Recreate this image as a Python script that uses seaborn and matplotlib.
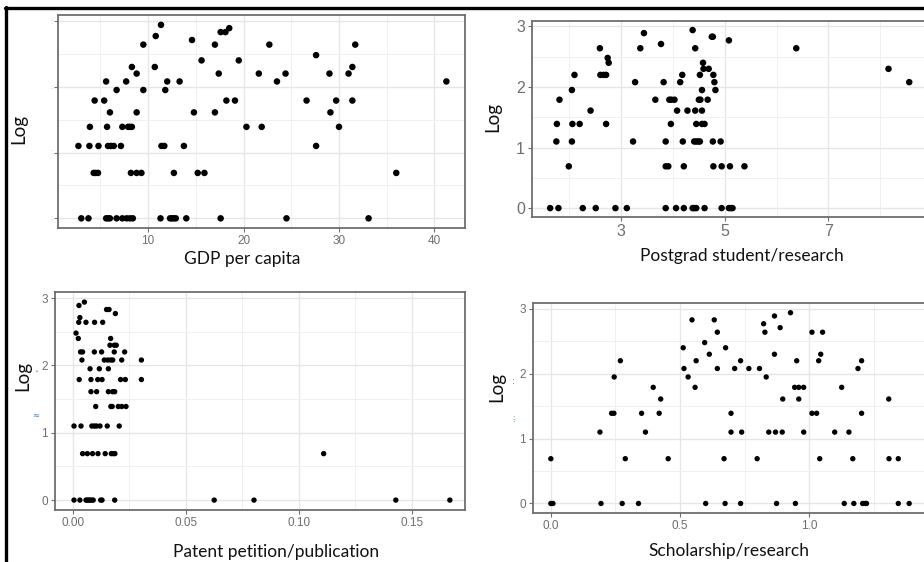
import numpy as np
import pandas as pd
import matplotlib
matplotlib.use("Agg")
import matplotlib.pyplot as plt
from matplotlib.lines import Line2D
from matplotlib.ticker import FixedLocator
import seaborn as sns

# ---- data: log counts (rows) and the x values observed at each level ----
gdp_rows = {
    0.00: [3.0, 3.75, 5.6, 5.8, 6.0, 6.7, 7.3, 7.75, 8.1, 8.4, 11.3, 12.3, 12.5, 12.7, 12.9, 14.0, 17.6, 24.5, 33.1],
    0.69: [4.3, 4.5, 4.75, 8.2, 8.8, 9.3, 12.7, 15.2, 15.9, 36.0],
    1.10: [2.7, 3.85, 4.8, 5.8, 6.1, 6.4, 7.15, 11.4, 11.7, 13.75, 27.6],
    1.39: [3.9, 5.7, 7.3, 7.9, 8.1, 8.3, 20.3, 21.9, 30.0],
    1.61: [6.0, 8.8, 14.8, 17.0, 29.1],
    1.79: [4.4, 5.4, 18.2, 19.1, 26.6, 29.7, 31.4],
    1.95: [6.7, 9.5, 11.8],
    2.08: [5.6, 7.7, 12.0, 13.3, 23.5, 41.25],
    2.20: [8.8, 17.4, 21.6, 24.4, 29.0, 31.0],
    2.30: [8.3, 10.7, 31.4],
    2.40: [15.6, 19.5],
    2.48: [27.6],
    2.64: [9.5, 17.0, 22.7, 31.7],
    2.71: [14.6],
    2.77: [10.8],
    2.83: [17.6, 18.1],
    2.89: [18.5],
    2.94: [11.35],
}

postgrad_rows = {
    0.00: [1.63, 1.79, 2.26, 2.51, 2.89, 3.11, 3.86, 4.06, 4.21, 4.38, 4.41, 4.45, 4.61, 4.94, 5.08, 5.12, 5.15],
    0.69: [1.99, 3.86, 3.91, 4.21, 4.78, 4.94, 5.10, 5.38],
    1.10: [1.75, 2.05, 3.23, 3.86, 4.19, 4.41, 4.45, 4.49, 4.52, 4.77, 4.92],
    1.39: [1.76, 2.06, 2.20, 2.71, 3.96, 4.45, 4.56, 4.61],
    1.61: [2.41, 4.08, 4.28, 4.43, 4.56],
    1.79: [1.81, 3.66, 3.93, 3.97, 4.03, 4.50, 4.53, 4.67],
    1.95: [2.05, 4.56, 4.82],
    2.08: [3.27, 3.82, 4.14, 4.80, 8.56],
    2.20: [2.10, 2.60, 2.66, 2.71, 4.18, 4.52, 4.78],
    2.30: [4.59, 4.69, 8.16],
    2.40: [2.76, 4.58],
    2.48: [2.74],
    2.64: [2.59, 3.37, 4.43, 6.38],
    2.71: [3.77],
    2.77: [5.08],
    2.83: [4.75, 4.77],
    2.89: [3.44],
    2.94: [4.38],
}

patent_rows = {
    0.00: [0.0006, 0.0032, 0.0059, 0.0065, 0.0071, 0.0077, 0.0084, 0.0091, 0.0124, 0.0130, 0.0186, 0.0626, 0.0802, 0.1429, 0.1668],
    0.69: [0.0044, 0.0065, 0.0088, 0.0112, 0.0144, 0.0171, 0.0180, 0.0187, 0.1110],
    1.10: [0.0006, 0.0037, 0.0085, 0.0096, 0.0106, 0.0121, 0.0153, 0.0206],
    1.39: [0.0102, 0.0169, 0.0175, 0.0202, 0.0217, 0.0236],
    1.61: [0.0081, 0.0106, 0.0158, 0.0177, 0.0186],
    1.79: [0.0029, 0.0081, 0.0111, 0.0130, 0.0212, 0.0233, 0.0304],
    1.95: [0.0077, 0.0118, 0.0158],
    2.08: [0.0041, 0.0140, 0.0155, 0.0168, 0.0177, 0.0217, 0.0304],
    2.20: [0.0035, 0.0044, 0.0096, 0.0128, 0.0184, 0.0230],
    2.30: [0.0165, 0.0184, 0.0193],
    2.40: [0.0025, 0.0168],
    2.48: [0.0015],
    2.64: [0.0027, 0.0059, 0.0097, 0.0133],
    2.71: [0.0032],
    2.77: [0.0189],
    2.83: [0.0150, 0.0161],
    2.89: [0.0028],
    2.94: [0.0052],
}

scholarship_rows = {
    0.00: [0.0, 0.008, 0.194, 0.276, 0.339, 0.599, 0.674, 0.734, 0.873, 0.946, 1.135, 1.172, 1.206, 1.216, 1.221, 1.344, 1.386],
    0.69: [0.0, 0.288, 0.454, 0.670, 0.798, 1.040, 1.168, 1.308, 1.344],
    1.10: [0.190, 0.366, 0.697, 0.738, 0.843, 0.869, 0.895, 0.978, 1.098, 1.153],
    1.39: [0.235, 0.244, 0.351, 0.419, 0.697, 1.010, 1.028, 1.202],
    1.61: [0.425, 0.897, 0.959, 1.307],
    1.79: [0.396, 0.558, 0.943, 0.959, 0.978, 1.125],
    1.95: [0.245, 0.531, 0.833],
    2.08: [0.515, 0.644, 0.711, 0.766, 0.807, 1.188],
    2.20: [0.269, 0.562, 0.734, 0.951, 1.036, 1.202],
    2.30: [0.613, 0.865, 1.044],
    2.40: [0.512, 0.676],
    2.48: [0.595],
    2.64: [0.644, 0.828, 1.010, 1.051],
    2.71: [0.887],
    2.77: [0.823],
    2.83: [0.546, 0.632],
    2.89: [0.865],
    2.94: [0.927],
}

x_titles = ["GDP per capita", "Postgrad student/research",
            "Patent petition/publication", "Scholarship/research"]
y_title = "Log"


def to_frame(rows):
    recs = [(x, y) for y, xs in rows.items() for x in xs]
    return pd.DataFrame(recs, columns=["x", "y"])


# ---- figure & style ----
W, H = 924, 562
sns.set_theme(style="white")
plt.rcParams["font.family"] = ["DejaVu Sans"]
fig = plt.figure(figsize=(W / 100, H / 100), dpi=100)
fig.patch.set_facecolor("white")

TICK_FONT = ["Liberation Sans Narrow", "Liberation Sans", "DejaVu Sans"]
TITLE_FONT = ["Lato", "DejaVu Sans"]


def add_axes_px(left, top, right, bottom):
    return fig.add_axes([left / W, 1 - bottom / H, (right - left) / W, (bottom - top) / H])


def style_panel(ax, xlim, major, minor, xlabels, show_ylabels, tick_size, dot_size, df):
    sns.scatterplot(data=df, x="x", y="y", ax=ax, color="black", s=dot_size,
                    edgecolor="none", linewidth=0, zorder=3, clip_on=False)
    ax.set_xlim(*xlim)
    ax.set_ylim(-0.147, 3.09)
    ax.xaxis.set_major_locator(FixedLocator(major))
    ax.xaxis.set_minor_locator(FixedLocator(minor))
    ax.yaxis.set_major_locator(FixedLocator([0, 1, 2, 3]))
    ax.yaxis.set_minor_locator(FixedLocator([0.5, 1.5, 2.5]))
    ax.grid(True, which="major", color="#e6e6e6", linewidth=1.0, zorder=0)
    ax.grid(True, which="minor", color="#f0f0f0", linewidth=0.7, zorder=0)
    ax.set_axisbelow(True)
    for sp in ax.spines.values():
        sp.set_color("#6e6e6e")
        sp.set_linewidth(1.3)
    ax.tick_params(axis="both", which="major", direction="out", length=3,
                   width=0.8, color="#6e6e6e", labelcolor="#6e6e6e",
                   labelsize=tick_size, pad=2, bottom=True, left=True)
    ax.tick_params(axis="both", which="minor", length=0)
    ax.set_xticklabels(xlabels, family=TICK_FONT)
    if show_ylabels:
        ax.set_yticklabels(["0", "1", "2", "3"], family=TICK_FONT)
    else:
        ax.set_yticklabels([])
    ax.set_xlabel("")
    ax.set_ylabel("")


def px_text(x, y, s, **kw):
    fig.text(x / W, 1 - y / H, s, **kw)


# Panel 1: GDP per capita
ax1 = add_axes_px(58, 15, 465, 228)
style_panel(ax1, (0.56, 43.2), [10, 20, 30, 40], [5, 15, 25, 35],
            ["10", "20", "30", "40"], False, 8.5, 22, to_frame(gdp_rows))
for yy in [22, 87, 152, 218]:
    px_text(51, yy, ":", color="#9cc3ea", fontsize=5, ha="center", va="center")

# Panel 2: Postgrad student/research
ax2 = add_axes_px(532, 21, 931, 217)
style_panel(ax2, (1.28, 8.98), [3, 5, 7], [2, 4, 6, 8],
            ["3", "5", "7"], True, 11.5, 22, to_frame(postgrad_rows))

# Panel 3: Patent petition/publication
ax3 = add_axes_px(55, 292, 465, 510)
style_panel(ax3, (-0.0078, 0.1735), [0.0, 0.05, 0.10, 0.15],
            [0.025, 0.075, 0.125, 0.175],
            ["0.00", "0.05", "0.10", "0.15"], True, 8.5, 15, to_frame(patent_rows))

# Panel 4: Scholarship/research
ax4 = add_axes_px(533, 303, 927, 513)
style_panel(ax4, (-0.069, 1.455), [0.0, 0.5, 1.0], [0.25, 0.75, 1.25],
            ["0.0", "0.5", "1.0"], True, 8.5, 15, to_frame(scholarship_rows))

# Axis titles
title_kw = dict(family=TITLE_FONT, color="#111111", ha="center", va="center")
px_text(242, 259, x_titles[0], fontsize=12.5, **title_kw)
px_text(742, 256, x_titles[1], fontsize=12.5, **title_kw)
px_text(276, 552, x_titles[2], fontsize=12.5, **title_kw)
px_text(729, 551, x_titles[3], fontsize=12.5, **title_kw)

for (xx, yy) in [(19, 129), (493, 117), (23, 376), (497, 387)]:
    px_text(xx, yy, y_title, fontsize=13.5, rotation=90, **title_kw)

# Small blue marks beside the lower y titles
px_text(36, 375, "ˇ", color="#3b6fc4", fontsize=6, ha="center", va="center")
px_text(36, 415, "≈", color="#3b6fc4", fontsize=6, ha="center", va="center")
px_text(513, 382, ":", color="#3b6fc4", fontsize=6, ha="center", va="center")
px_text(513, 420, "⁝", color="#3b6fc4", fontsize=6, ha="center", va="center")

# Outer frame: heavy black rules along the top and left edges
fig.add_artist(Line2D([5 / W, 1.0], [1 - 8 / H, 1 - 8 / H], color="black",
                      linewidth=2.4, transform=fig.transFigure))
fig.add_artist(Line2D([6 / W, 6 / W], [0.0, 1 - 7 / H], color="black",
                      linewidth=2.4, transform=fig.transFigure))

fig.savefig("out.png", dpi=100, facecolor="white")
